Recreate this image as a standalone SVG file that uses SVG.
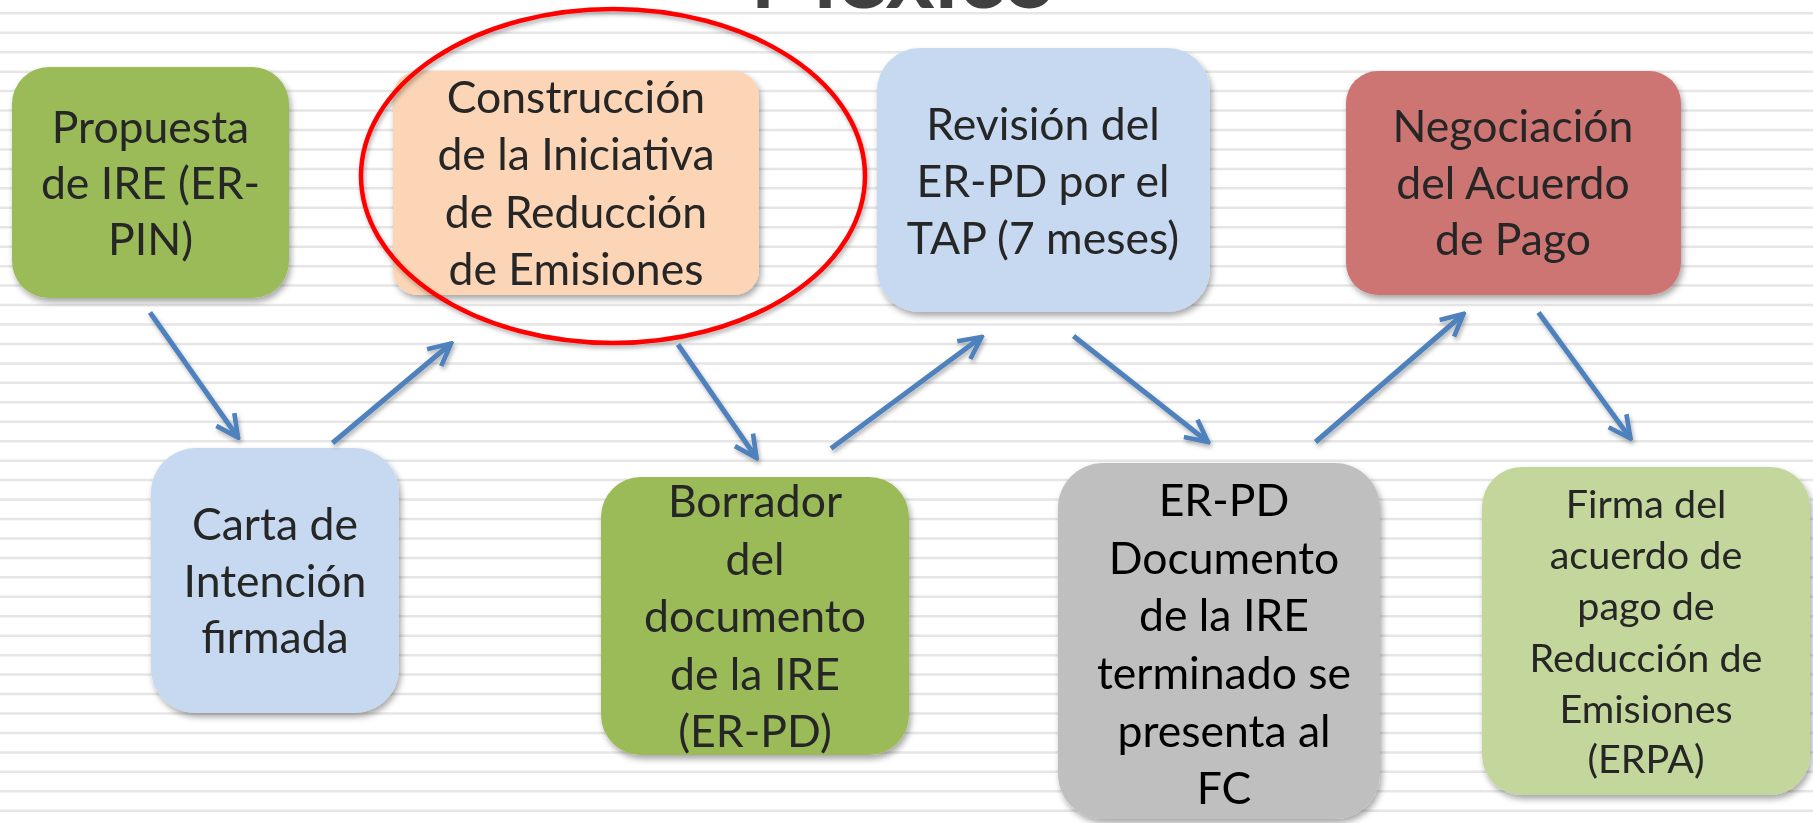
<svg xmlns="http://www.w3.org/2000/svg" width="1813" height="823" viewBox="0 0 1813 823">
<style>
.t{font-family:Lato,"Liberation Sans",sans-serif;font-size:44.5px;fill:#262626;text-anchor:middle}
.s{font-size:39.5px}
.k{fill:#000}
.stripe{stroke:#e6e6e6;stroke-width:2.5}
.arr{stroke:#4F81BD;stroke-width:5;fill:none;marker-end:url(#ah);filter:url(#ash)}
</style>
<defs>
<filter id="sh" x="-10%" y="-10%" width="125%" height="125%">
<feDropShadow dx="2" dy="4" stdDeviation="3" flood-color="#000" flood-opacity="0.35"/>
</filter>
<filter id="ash" x="-20%" y="-20%" width="140%" height="140%">
<feDropShadow dx="1.5" dy="3" stdDeviation="2" flood-color="#000" flood-opacity="0.3"/>
</filter>
<marker id="ah" viewBox="0 0 10 10" refX="9" refY="5" markerWidth="5.5" markerHeight="5.5" orient="auto" markerUnits="strokeWidth">
<path d="M1,1 L9,5 L1,9" fill="none" stroke="#4F81BD" stroke-width="1.7" stroke-linejoin="miter"/>
</marker>
</defs>
<rect width="1813" height="823" fill="#ffffff"/>
<g id="stripes">
<line class="stripe" x1="0" x2="1813" y1="13.3" y2="13.3"/>
<line class="stripe" x1="0" x2="1813" y1="32.75" y2="32.75"/>
<line class="stripe" x1="0" x2="1813" y1="52.2" y2="52.2"/>
<line class="stripe" x1="0" x2="1813" y1="71.65" y2="71.65"/>
<line class="stripe" x1="0" x2="1813" y1="91.1" y2="91.1"/>
<line class="stripe" x1="0" x2="1813" y1="110.55" y2="110.55"/>
<line class="stripe" x1="0" x2="1813" y1="130" y2="130"/>
<line class="stripe" x1="0" x2="1813" y1="149.45" y2="149.45"/>
<line class="stripe" x1="0" x2="1813" y1="168.9" y2="168.9"/>
<line class="stripe" x1="0" x2="1813" y1="188.35" y2="188.35"/>
<line class="stripe" x1="0" x2="1813" y1="207.8" y2="207.8"/>
<line class="stripe" x1="0" x2="1813" y1="227.25" y2="227.25"/>
<line class="stripe" x1="0" x2="1813" y1="246.7" y2="246.7"/>
<line class="stripe" x1="0" x2="1813" y1="266.15" y2="266.15"/>
<line class="stripe" x1="0" x2="1813" y1="285.6" y2="285.6"/>
<line class="stripe" x1="0" x2="1813" y1="305.05" y2="305.05"/>
<line class="stripe" x1="0" x2="1813" y1="324.5" y2="324.5"/>
<line class="stripe" x1="0" x2="1813" y1="343.95" y2="343.95"/>
<line class="stripe" x1="0" x2="1813" y1="363.4" y2="363.4"/>
<line class="stripe" x1="0" x2="1813" y1="382.85" y2="382.85"/>
<line class="stripe" x1="0" x2="1813" y1="402.3" y2="402.3"/>
<line class="stripe" x1="0" x2="1813" y1="421.75" y2="421.75"/>
<line class="stripe" x1="0" x2="1813" y1="441.2" y2="441.2"/>
<line class="stripe" x1="0" x2="1813" y1="460.65" y2="460.65"/>
<line class="stripe" x1="0" x2="1813" y1="480.1" y2="480.1"/>
<line class="stripe" x1="0" x2="1813" y1="499.55" y2="499.55"/>
<line class="stripe" x1="0" x2="1813" y1="519" y2="519"/>
<line class="stripe" x1="0" x2="1813" y1="538.45" y2="538.45"/>
<line class="stripe" x1="0" x2="1813" y1="557.9" y2="557.9"/>
<line class="stripe" x1="0" x2="1813" y1="577.35" y2="577.35"/>
<line class="stripe" x1="0" x2="1813" y1="596.8" y2="596.8"/>
<line class="stripe" x1="0" x2="1813" y1="616.25" y2="616.25"/>
<line class="stripe" x1="0" x2="1813" y1="635.7" y2="635.7"/>
<line class="stripe" x1="0" x2="1813" y1="655.15" y2="655.15"/>
<line class="stripe" x1="0" x2="1813" y1="674.6" y2="674.6"/>
<line class="stripe" x1="0" x2="1813" y1="694.05" y2="694.05"/>
<line class="stripe" x1="0" x2="1813" y1="713.5" y2="713.5"/>
<line class="stripe" x1="0" x2="1813" y1="732.95" y2="732.95"/>
<line class="stripe" x1="0" x2="1813" y1="752.4" y2="752.4"/>
<line class="stripe" x1="0" x2="1813" y1="771.85" y2="771.85"/>
<line class="stripe" x1="0" x2="1813" y1="791.3" y2="791.3"/>
<line class="stripe" x1="0" x2="1813" y1="810.75" y2="810.75"/>
</g>
<text id="title" x="903" y="8" font-family="Lato,'Liberation Sans',sans-serif" font-weight="bold" font-size="92" fill="#404040" text-anchor="middle" textLength="306" lengthAdjust="spacingAndGlyphs">México</text>

<g id="n1" filter="url(#sh)">
<rect x="12" y="67" width="277" height="231" rx="37" fill="#9BBB59"/>
<text class="t"><tspan x="150.5" y="143">Propuesta</tspan><tspan x="150.5" y="199">de IRE (ER-</tspan><tspan x="150.5" y="255">PIN)</tspan></text>
</g>
<g id="n2" filter="url(#sh)">
<rect x="151" y="448" width="248" height="265" rx="45" fill="#C6D9F1"/>
<text class="t"><tspan x="275" y="540">Carta de</tspan><tspan x="275" y="597">Intención</tspan><tspan x="275" y="653">firmada</tspan></text>
</g>
<g id="n3" filter="url(#sh)">
<rect x="393" y="71" width="366" height="224" rx="25" fill="#FBD5B5"/>
<text class="t"><tspan x="576" y="113">Construcción</tspan><tspan x="576" y="169.5">de la Iniciativa</tspan><tspan x="576" y="227.5">de Reducción</tspan><tspan x="576" y="285">de Emisiones</tspan></text>
</g>
<g id="highlight" filter="url(#ash)">
<ellipse cx="613" cy="176" rx="252" ry="167" fill="none" stroke="#FF0000" stroke-width="4.5"/>
</g>
<g id="n4" filter="url(#sh)">
<rect x="877" y="48" width="333" height="264" rx="43" fill="#C6D9F1"/>
<text class="t"><tspan x="1043" y="139.5">Revisión del</tspan><tspan x="1043" y="197">ER-PD por el</tspan><tspan x="1043" y="253.5">TAP (7 meses)</tspan></text>
</g>
<g id="n5" filter="url(#sh)">
<rect x="1346" y="71" width="335" height="224" rx="32" fill="#CD7472"/>
<text class="t"><tspan x="1513" y="142">Negociación</tspan><tspan x="1513" y="198.5">del Acuerdo</tspan><tspan x="1513" y="255">de Pago</tspan></text>
</g>
<g id="n6" filter="url(#sh)">
<rect x="601" y="477" width="308" height="278" rx="40" fill="#9BBB59"/>
<text class="t"><tspan x="755" y="517">Borrador</tspan><tspan x="755" y="574.5">del</tspan><tspan x="755" y="632">documento</tspan><tspan x="755" y="689.5">de la IRE</tspan><tspan x="755" y="747">(ER-PD)</tspan></text>
</g>
<g id="n7" filter="url(#sh)">
<rect x="1058" y="463" width="322" height="356" rx="45" fill="#BFBFBF"/>
<text class="t k"><tspan x="1224" y="516">ER-PD</tspan><tspan x="1224" y="573.5">Documento</tspan><tspan x="1224" y="631">de la IRE</tspan><tspan x="1224" y="689">terminado se</tspan><tspan x="1224" y="746.5">presenta al</tspan><tspan x="1224" y="803.5">FC</tspan></text>
</g>
<g id="n8" filter="url(#sh)">
<rect x="1482" y="467" width="328" height="328" rx="40" fill="#C3D69B"/>
<text class="t s"><tspan x="1646" y="518.3">Firma del</tspan><tspan x="1646" y="569.3">acuerdo de</tspan><tspan x="1646" y="620">pago de</tspan><tspan x="1646" y="671.7">Reducción de</tspan><tspan x="1646" y="722.7">Emisiones</tspan><tspan x="1646" y="773.3">(ERPA)</tspan></text>
</g>

<g id="connectors">
<line class="arr" x1="150" y1="312.5" x2="238" y2="437.5"/>
<line class="arr" x1="332.5" y1="443" x2="451" y2="343.5"/>
<line class="arr" x1="678" y1="344.5" x2="756.5" y2="458"/>
<line class="arr" x1="831" y1="448.5" x2="981.5" y2="337"/>
<line class="arr" x1="1073.5" y1="336" x2="1208" y2="442"/>
<line class="arr" x1="1315.5" y1="442" x2="1463.5" y2="314"/>
<line class="arr" x1="1538.5" y1="312.5" x2="1630.5" y2="438.5"/>
</g>
</svg>
